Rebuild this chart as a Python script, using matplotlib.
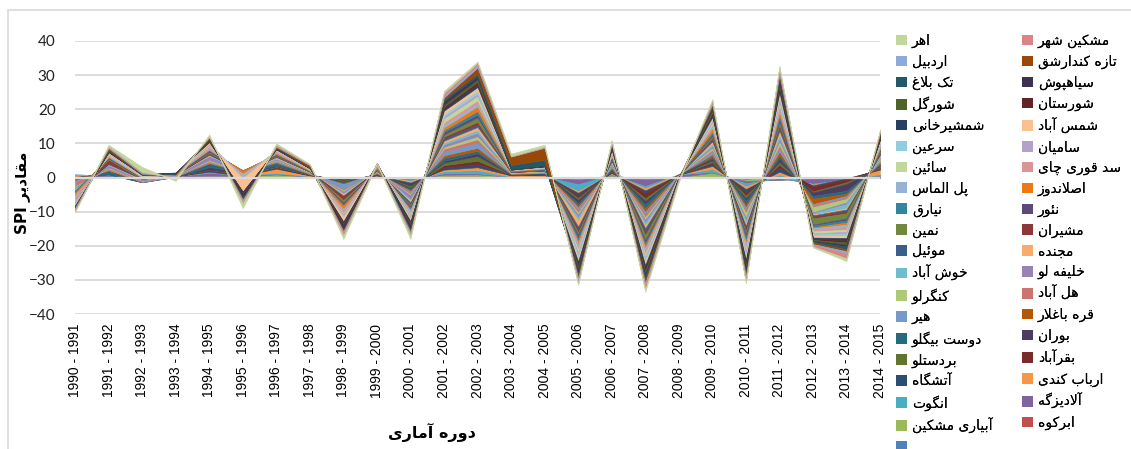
import matplotlib

matplotlib.use("Agg")
import matplotlib.pyplot as plt
import numpy as np
from matplotlib.patches import Patch, Rectangle

# periods on the x axis
PERIODS = [f"{y} - {y + 1}" for y in range(1990, 2015)]

# stations in stacking order (bottom first); the first one has no name in the source sheet
STATIONS = [
    "", "ابرکوه", "آبیاری مشکین", "آلادیزگه", "انگوت", "ارباب کندی", "آتشگاه",
    "بقرآباد", "بردستلو", "بوران", "دوست بیگلو", "قره باغلار", "هیر", "هل آباد",
    "کنگرلو", "خلیفه لو", "خوش آباد", "مجنده", "موئیل", "مشیران", "نمین", "نئور",
    "نیارق", "اصلاندوز", "پل الماس", "سد قوری چای", "سائین", "سامیان", "سرعین",
    "شمس آباد", "شمشیرخانی", "شورستان", "شورگل", "سیاهپوش", "تک بلاغ",
    "تازه کندارشق", "اردبیل", "مشکین شهر", "اهر",
]

COLORS = [
    "#4F81BD", "#C0504D", "#9BBB59", "#8064A2", "#4BACC6", "#F79646", "#2C4D75",
    "#772C2A", "#5F7530", "#4D3B62", "#276A7C", "#B65708", "#729ACA", "#CD7371",
    "#AFC97A", "#9983B5", "#6FBDD1", "#F9AB6B", "#3A5F8B", "#8C3836", "#71893F",
    "#5E4A7A", "#31859C", "#EE7812", "#95B3D7", "#D99694", "#C3D69B", "#B3A2C7",
    "#93CDDD", "#FAC090", "#254061", "#632523", "#4F6228", "#3F3151", "#215968",
    "#984807", "#8EA9DB", "#D98585", "#C3D69B",
]

# SPI per period, one value per named station (STATIONS[1:])
SPI_BLANK = [0.0] * 25  # unnamed column is empty
SPI = [
    [-0.3, 0.2, 1.0, -0.2, -0.5, -0.3, 0.1, -0.2, 0.3, -0.4, -0.6, -0.5, -1.2, -0.3, -0.4, -0.2, -0.6, 0.2, -0.3, -0.1, 0.4, -0.5, -0.7, -0.6, -1.4, -0.2, -0.3, -0.5, -0.4, 0.2, -0.1, -0.3, 0.3, -0.2, -0.4, -0.5, -0.4, -0.2],  # 1990-1991
    [0.1, 0.3, 0.2, 0.3, 0.1, 0.2, 0.2, 0.1, -0.6, 1.0, 0.3, 0.2, 0.3, 0.2, 0.7, 0.2, 0.1, 0.2, 1.2, 0.3, 0.2, 0.2, 0.1, 0.3, 0.2, 0.3, 0.2, 0.1, 0.2, 0.1, 0.3, 0.2, -0.2, 0.2, 0.6, 0.5, 0.0, 0.5],  # 1991-1992
    [-0.2, 0.1, 0.2, -0.1, 0.0, -0.2, 0.1, -0.1, -1.2, 0.2, 0.1, -0.2, 0.3, 0.1, 0.4, -0.1, 0.2, 0.1, -0.2, 0.2, 0.3, 0.1, -0.1, 0.2, 0.1, 0.3, 0.2, 0.0, 0.1, -0.1, 0.1, 0.2, -0.3, 0.1, 0.2, 0.3, 0.2, 1.5],  # 1992-1993
    [0.1, 0.0, 0.3, 0.0, -0.1, 0.1, 0.0, 0.1, -0.3, 0.1, 0.0, 0.1, 0.2, -0.1, 0.3, 0.0, 0.1, -0.1, 0.1, 0.0, 0.2, 0.0, 0.1, -0.1, 0.2, 0.1, 0.1, -0.2, 0.1, 0.0, -0.1, 0.0, -0.2, -0.3, -0.2, -0.4, -0.3, -0.9],  # 1993-1994
    [0.2, 0.3, 0.9, 0.2, 0.1, 0.3, 0.2, 0.1, 0.8, 1.0, 0.2, 0.3, 0.2, 0.3, 1.2, 0.2, 0.2, 0.2, 0.3, 0.3, 0.4, 0.2, 0.2, 0.3, 0.6, 0.3, 0.4, 0.2, 0.3, 0.2, 0.2, 0.3, 0.2, 0.2, 0.2, 0.3, 0.1, 0.5],  # 1994-1995
    [0.2, 0.1, 0.3, 0.1, -0.2, 0.4, 0.1, 0.2, 0.3, 0.2, 0.1, 0.2, -0.2, 0.1, 0.2, 0.1, -0.4, 0.2, -0.1, 0.1, 0.1, -0.1, -0.8, -0.3, -0.2, -0.1, -0.6, -0.3, -3.8, -0.2, -0.3, -0.2, -1.0, -0.4, -0.3, -0.6, -0.5, -1.4],  # 1995-1996
    [0.2, 0.7, 0.2, 0.3, 1.2, 0.2, 0.3, 0.2, 0.1, 0.9, 0.2, 0.3, 0.2, 0.2, 0.3, 0.2, 0.3, 0.2, 0.1, 0.2, 0.2, 0.2, 0.4, 0.1, 0.4, 0.1, 0.0, 0.1, 0.2, 0.1, 0.1, 0.1, 0.1, 0.2, 0.2, 0.3, 0.3, 0.4],  # 1996-1997
    [0.1, 0.1, 0.1, 0.1, 0.2, 0.1, 0.1, 0.1, 0.0, 0.0, 0.2, 0.1, 0.1, 0.1, 0.1, 0.1, 0.1, 0.0, 0.1, 0.1, 0.0, 0.1, 0.1, 0.1, 0.1, 0.1, 0.1, 0.1, 0.1, 0.0, 0.1, 0.1, 0.0, 0.1, 0.6, 0.1, 0.1, 0.2],  # 1997-1998
    [0.1, -0.2, -0.3, -0.2, 0.2, -0.3, -0.2, -0.3, -0.2, -0.3, -0.2, -1.5, -0.4, -0.3, -0.5, -0.3, -0.4, -0.3, -1.0, -0.8, -0.5, -0.3, -1.0, -0.4, -0.9, -0.3, -0.5, -0.4, -1.2, -0.3, -0.4, -0.3, -1.2, -0.4, -0.3, -0.4, -0.8, -1.0],  # 1998-1999
    [0.1, 0.1, 0.2, 0.1, 0.1, 0.1, 0.2, 0.1, 0.1, 0.1, 0.1, 0.2, 0.1, 0.1, 0.2, 0.1, 0.1, 0.1, 0.2, 0.1, 0.1, 0.1, 0.6, 0.1, 0.1, 0.1, 0.1, 0.1, 0.1, 0.1, 0.0, 0.1, 0.0, 0.1, 0.1, 0.0, -0.1, -0.2],  # 1999-2000
    [-0.2, -0.3, -0.2, -0.3, -0.5, -0.8, -0.3, -0.4, -0.3, -0.4, -0.3, -0.5, -0.4, -0.3, -1.2, -0.4, -0.5, -0.4, -0.3, -0.5, -0.4, -0.5, -0.3, -0.5, -0.6, -0.4, -0.6, -0.5, -0.5, -0.4, -0.5, -0.4, -1.0, -0.5, -0.4, -0.6, -0.5, -0.9],  # 2000-2001
    [0.5, 0.3, 0.4, 0.6, 0.5, 0.6, 0.7, 0.8, 0.5, 0.9, 0.7, 1.1, 0.8, 0.6, 0.7, 0.5, 0.6, 0.7, 0.5, 0.6, 0.7, 0.6, 0.8, 0.7, 0.8, 1.2, 0.6, 0.7, 0.9, 0.7, 0.5, 0.6, 1.0, 0.6, 0.5, 0.6, 0.7, 0.6],  # 2001-2002
    [0.5, 0.4, 0.3, 1.0, 0.8, 0.9, 1.0, 1.4, 0.8, 0.7, 0.9, 1.5, 1.0, 0.9, 1.0, 0.8, 0.9, 0.7, 0.8, 1.3, 0.9, 1.0, 1.4, 0.9, 0.8, 1.3, 0.7, 0.9, 1.0, 0.8, 0.7, 0.9, 0.8, 0.7, 1.8, 0.8, 0.6, 0.4],  # 2002-2003
    [0.1, 0.1, 0.0, 0.1, 0.3, 0.1, 0.1, 0.0, 0.1, 0.1, 0.1, 0.1, 0.0, 0.1, 0.0, 0.1, 0.2, 0.0, 0.1, 0.0, 0.1, 0.1, 0.2, 0.0, 0.1, 0.0, 0.1, 0.0, 0.1, -0.1, 0.0, 0.1, 0.0, 1.3, 2.4, 0.1, 0.1, 0.7],  # 2003-2004
    [0.1, 0.1, 0.1, 0.1, 0.4, 0.1, 0.1, 0.1, 0.1, 0.1, 0.1, 0.1, 0.1, 0.1, 0.0, 0.1, 0.2, 0.1, 0.1, 0.1, 0.1, 0.1, 0.2, 0.1, 0.1, 0.1, 0.1, 0.0, 0.1, 0.1, 0.1, 0.1, 0.1, 1.6, 3.5, 0.2, 0.1, 0.6],  # 2004-2005
    [-0.2, -0.3, -1.5, -2.0, -0.5, -0.8, -0.7, -0.6, -0.9, -0.7, -0.6, -0.8, -0.7, -0.6, -0.8, -0.9, -1.8, -0.8, -0.9, -0.7, -0.8, -0.9, -0.8, -1.0, -0.8, -0.9, -0.7, -1.1, -0.8, -0.9, -0.7, -0.8, -0.9, -0.7, -0.8, -0.9, -0.6, -0.6],  # 2005-2006
    [0.1, 0.5, 0.2, 0.3, 0.2, 0.3, 0.2, 0.3, 0.2, 0.3, 0.3, 0.4, 0.3, 0.2, 0.3, 0.4, 0.3, 0.3, 0.2, 0.3, 0.3, 0.3, 0.2, 0.4, 0.3, 0.3, 0.2, 0.3, 0.3, 0.2, 0.3, 0.3, 0.3, 0.4, 0.3, 0.3, 0.4, 0.3],  # 2006-2007
    [-0.3, -0.2, -2.0, -0.6, -0.7, -0.8, -1.5, -0.8, -0.9, -1.2, -1.0, -0.8, -0.9, -0.7, -0.8, -0.9, -0.8, -1.2, -0.8, -1.5, -0.8, -0.7, -0.9, -0.8, -0.9, -0.8, -0.7, -0.9, -0.8, -0.9, -0.8, -0.9, -0.8, -0.9, -1.0, -0.8, -0.9, -0.8],  # 2007-2008
    [0.0, 0.1, 0.8, 0.0, -0.1, 0.1, 0.0, -0.1, 0.2, 0.0, -0.1, 0.0, -0.1, 0.0, 0.1, -0.1, 0.0, -0.1, 0.0, -0.1, 0.1, -0.1, 0.0, -0.1, -0.1, 0.0, 0.0, -0.1, -0.1, 0.0, -0.1, -0.1, 0.0, -0.1, -0.2, -0.2, -0.3, -0.6],  # 2008-2009
    [0.2, 1.2, 0.3, 0.8, 0.9, 0.5, 0.6, 0.5, 0.6, 0.5, 0.7, 0.9, 0.5, 0.6, 0.5, 0.6, 0.7, 0.6, 0.5, 0.6, 0.5, 0.6, 1.0, 0.6, 0.5, 0.6, 0.5, 0.6, 0.5, 0.6, 0.7, 0.8, 0.6, 0.5, 0.6, 0.5, 0.6, 0.4],  # 2009-2010
    [-0.6, -0.4, -0.7, -0.9, -0.8, -1.0, -0.9, -0.8, -0.7, -1.2, -0.8, -0.9, -0.7, -1.4, -0.8, -0.9, -0.7, -0.8, -0.9, -0.8, -0.7, -1.1, -0.8, -0.9, -0.7, -0.8, -0.9, -0.8, -0.7, -0.9, -0.8, -0.7, -0.9, -0.8, -0.7, -0.9, -0.8, -0.4],  # 2010-2011
    [0.1, -0.8, 0.6, 1.0, 0.8, 1.2, 0.9, 0.8, 1.0, 0.9, 1.1, 1.0, 0.9, 1.2, 0.9, 1.0, 1.1, 0.9, 0.8, 1.0, 0.9, 1.0, 1.1, 0.9, 1.0, 0.9, 0.8, 1.0, 0.9, 1.0, 0.9, 0.8, 1.0, 0.9, 0.8, 0.9, 1.0, 0.6],  # 2011-2012
    [-0.2, -0.1, -1.5, -0.3, -0.2, -0.3, -1.5, -0.3, -1.0, -0.8, -1.6, -0.3, -0.6, -1.5, -0.3, -0.4, -0.2, -0.3, -0.6, -1.8, -0.3, -0.5, -0.3, -0.4, -0.5, -0.6, -0.3, -0.4, -0.5, -0.3, -0.4, -0.3, -0.2, -0.3, -0.4, -0.2, -0.5, -0.3],  # 2012-2013
    [0.0, -0.2, -0.3, -0.3, 0.6, -0.4, -0.8, -0.5, -2.0, -0.9, -0.6, -0.5, -0.4, -1.0, -0.5, -1.2, -0.4, -0.5, -0.6, -1.5, -0.5, -0.7, -0.6, -0.7, -0.8, -0.6, -0.5, -0.7, -0.6, -0.7, -0.6, -0.7, -0.5, -0.8, -0.6, -0.7, -1.4, -0.8],  # 2013-2014
    [0.2, 0.3, 0.2, 0.4, 1.2, 0.3, 0.4, 0.3, 0.4, 0.3, 0.5, 0.4, 0.3, 0.4, 0.3, 0.4, 0.3, 0.4, 0.3, 0.4, 0.3, 0.4, 0.5, 0.3, 0.4, 0.3, 0.4, 0.3, 0.4, 0.3, 0.4, 0.3, 0.4, 0.3, 0.4, 0.3, 0.4, 0.3],  # 2014-2015
]

# --- minimal Persian shaping (no arabic_reshaper in the sandbox) ---
FORMS = {
    "ا": ("\uFE8D", "\uFE8E", None, None), "آ": ("\uFE81", "\uFE82", None, None),
    "ب": ("\uFE8F", "\uFE90", "\uFE91", "\uFE92"), "پ": ("\uFB56", "\uFB57", "\uFB58", "\uFB59"),
    "ت": ("\uFE95", "\uFE96", "\uFE97", "\uFE98"), "ج": ("\uFE9D", "\uFE9E", "\uFE9F", "\uFEA0"),
    "چ": ("\uFB7A", "\uFB7B", "\uFB7C", "\uFB7D"), "خ": ("\uFEA5", "\uFEA6", "\uFEA7", "\uFEA8"),
    "د": ("\uFEA9", "\uFEAA", None, None), "ر": ("\uFEAD", "\uFEAE", None, None),
    "ز": ("\uFEAF", "\uFEB0", None, None), "س": ("\uFEB1", "\uFEB2", "\uFEB3", "\uFEB4"),
    "ش": ("\uFEB5", "\uFEB6", "\uFEB7", "\uFEB8"), "ص": ("\uFEB9", "\uFEBA", "\uFEBB", "\uFEBC"),
    "ع": ("\uFEC9", "\uFECA", "\uFECB", "\uFECC"), "غ": ("\uFECD", "\uFECE", "\uFECF", "\uFED0"),
    "ف": ("\uFED1", "\uFED2", "\uFED3", "\uFED4"), "ق": ("\uFED5", "\uFED6", "\uFED7", "\uFED8"),
    "ک": ("\uFB8E", "\uFB8F", "\uFB90", "\uFB91"), "گ": ("\uFB92", "\uFB93", "\uFB94", "\uFB95"),
    "ل": ("\uFEDD", "\uFEDE", "\uFEDF", "\uFEE0"), "م": ("\uFEE1", "\uFEE2", "\uFEE3", "\uFEE4"),
    "ن": ("\uFEE5", "\uFEE6", "\uFEE7", "\uFEE8"), "و": ("\uFEED", "\uFEEE", None, None),
    "ه": ("\uFEE9", "\uFEEA", "\uFEEB", "\uFEEC"), "ی": ("\uFBFC", "\uFBFD", "\uFBFE", "\uFBFF"),
    "ئ": ("\uFE89", "\uFE8A", "\uFE8B", "\uFE8C"),
}
LAM_ALEF = {"ا": ("\uFEFB", "\uFEFC"), "آ": ("\uFEF5", "\uFEF6")}


def fa(text):
    def joins_next(c):
        return c in FORMS and FORMS[c][2] is not None

    out, i = [], 0
    while i < len(text):
        c = text[i]
        if c not in FORMS:
            out.append(c)
            i += 1
            continue
        after_join = i > 0 and joins_next(text[i - 1])
        if c == "ل" and i + 1 < len(text) and text[i + 1] in LAM_ALEF:
            out.append(LAM_ALEF[text[i + 1]][1 if after_join else 0])
            i += 2
            continue
        before_join = joins_next(c) and i + 1 < len(text) and text[i + 1] in FORMS
        iso, fin, ini, med = FORMS[c]
        if after_join and before_join:
            out.append(med)
        elif after_join:
            out.append(fin)
        elif before_join:
            out.append(ini)
        else:
            out.append(iso)
        i += 1
    return "".join(reversed(out))


def main():
    values = np.column_stack([SPI_BLANK, np.array(SPI)])  # (periods, stations)
    x = np.arange(len(PERIODS))

    fig = plt.figure(figsize=(11.31, 4.49), dpi=100)
    ax = fig.add_axes([75 / 1131, 1 - 314 / 449, 805 / 1131, 273 / 449])

    polys = ax.stackplot(x, values.T, colors=COLORS, linewidth=0.4, zorder=2)
    for p, c in zip(polys, COLORS):
        p.set_edgecolor(c)

    ax.set_xlim(0, len(PERIODS) - 1)
    ax.set_ylim(-40, 40)
    ax.set_yticks(range(-40, 41, 10))
    ax.grid(axis="y", color="#D9D9D9", linewidth=1.3, zorder=0)
    ax.set_axisbelow(True)
    ax.axhline(0, color="#D9D9D9", linewidth=1.6, zorder=3)
    for s in ax.spines.values():
        s.set_visible(False)

    ax.set_xticks(x)
    ax.set_xticklabels(PERIODS, rotation=90, fontsize=10, family="Liberation Sans")
    ax.tick_params(axis="x", length=0, pad=7)
    ax.tick_params(axis="y", length=0, pad=14, labelsize=11, labelcolor="#222222")
    for t in ax.get_yticklabels():
        t.set_family("Lato")

    ax.set_ylabel("SPI " + fa("مقادیر"), fontsize=11, fontweight="bold")
    ax.yaxis.set_label_coords(-0.056, 0.445)
    ax.set_xlabel(fa("دوره آماری"), fontsize=11.5, fontweight="bold")
    ax.xaxis.set_label_coords(0.4435, -0.40)

    # legend in two columns, same order as the source (reverse of stacking)
    order = list(range(len(STATIONS) - 1, -1, -1))
    left = [i for i in order if i % 2 == 0]
    right = [i for i in order if i % 2 == 1]
    kw = dict(frameon=False, fontsize=10, handlelength=0.8, handleheight=0.8,
              handletextpad=0.35, labelspacing=0.48, borderpad=0, borderaxespad=0)
    for idx, x0 in ((left, 896), (right, 1022)):
        handles = [Patch(facecolor=COLORS[i], edgecolor="none") for i in idx]
        labels = [fa(STATIONS[i]) for i in idx]
        leg = fig.legend(handles, labels, loc="upper left",
                         bbox_to_anchor=(x0 / 1131, 1 - 34 / 449), **kw)
        fig.add_artist(leg)

    # chart-area border
    fig.add_artist(Rectangle((8 / 1131, -0.05), 1.1, 1.05 - 10 / 449, transform=fig.transFigure,
                             fill=False, edgecolor="#D9D9D9", linewidth=1.2))

    fig.savefig("out.png", dpi=100)


if __name__ == "__main__":
    main()
